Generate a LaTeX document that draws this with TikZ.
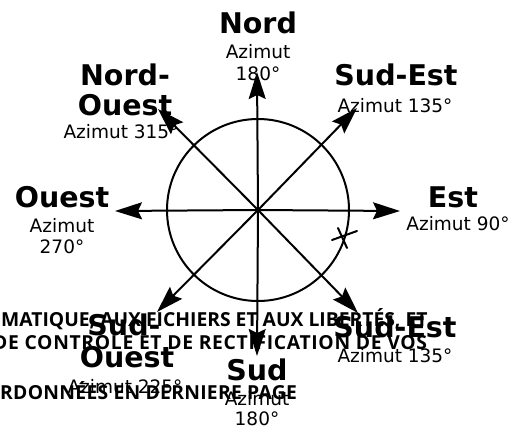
\documentclass[tikz,border=0pt]{standalone}
\usepackage{fontspec}
\setmainfont{DejaVu Sans}
\newfontfamily\overlayfont{Open Sans}
\usetikzlibrary{arrows.meta}
\tikzset{
  arr/.style={line width=2pt,-{Stealth[length=27pt,width=17pt,inset=4pt]}},
  dirname/.style={font=\bfseries\fontsize{28.5}{30}\selectfont,anchor=base,inner sep=0pt},
  az/.style={font=\fontsize{18.5}{22}\selectfont,anchor=base,inner sep=0pt},
  over/.style={font=\overlayfont\bfseries\fontsize{19.3}{22}\selectfont,anchor=base west,inner sep=0pt},
  crossline/.style={line width=2pt,line cap=round}
}
\begin{document}
\begin{tikzpicture}[x=1pt,y=-1pt]
\useasboundingbox (0,0) rectangle (518,426);
\clip (0,0) rectangle (518,426);
\coordinate (c) at (258,210);
\draw[line width=2pt] (c) circle[radius=91pt];
\coordinate (tn) at (257,72);
\coordinate (ts) at (257,356);
\coordinate (te) at (400,211);
\coordinate (tw) at (115,211);
\coordinate (tne) at (357,108);
\coordinate (tnw) at (158,109);
\coordinate (tsw) at (157,312);
\coordinate (tse) at (358,313);
\foreach \t in {tn,ts,te,tw,tne,tnw,tsw,tse} \draw[arr] (c) -- (\t);
% hand-drawn cross
\coordinate (x1a) at (332,240); \coordinate (x1b) at (357,231);
\coordinate (x2a) at (338,228); \coordinate (x2b) at (347,248);
\draw[crossline] (x1a) -- (x1b);
\draw[crossline] (x2a) -- (x2b);
% labels
\node[dirname] (nord) at (258,33) {Nord};
\node[az] (nordaz) at (258,58) {Azimut};
\node[az] (nordaz2) at (258,80) {180°};
\node[dirname] (nw1) at (125,85) {Nord-};
\node[dirname] (nw2) at (125,115) {Ouest};
\node[az] (nwaz) at (121,138) {Azimut 315°};
\node[dirname] (ne1) at (396,85) {Sud-Est};
\node[az] (neaz) at (395,112) {Azimut 135°};
\node[dirname] (w1) at (62,207) {Ouest};
\node[az] (waz) at (62,232) {Azimut};
\node[az] (waz2) at (62,253) {270°};
\node[dirname] (e1) at (453,207) {Est};
\node[az] (eaz) at (458,230) {Azimut 90°};
\node[dirname] (sw1) at (124,335) {Sud-};
\node[dirname] (sw2) at (127,367) {Ouest};
\node[az] (swaz) at (125,393) {Azimut 225°};
\node[dirname] (se1) at (395,337) {Sud-Est};
\node[az] (seaz) at (395,362) {Azimut 135°};
\node[dirname] (s1) at (257,380) {Sud};
\node[az] (saz) at (257,405) {Azimut};
\node[az] (saz2) at (257,425) {180°};
% overlay text
\node[over] (o1) at (1,326) {MATIQUE, AUX FICHIERS ET AUX LIBERTÉS, ET};
\node[over] (o2) at (-7,349) {\addfontfeature{LetterSpace=3.5}DE CONTROLE ET DE RECTIFICATION DE VOS};
\node[over] (o3) at (0,399) {\addfontfeature{LetterSpace=1.5}RDONNÉES EN DERNIERE PAGE};
\end{tikzpicture}
\end{document}
